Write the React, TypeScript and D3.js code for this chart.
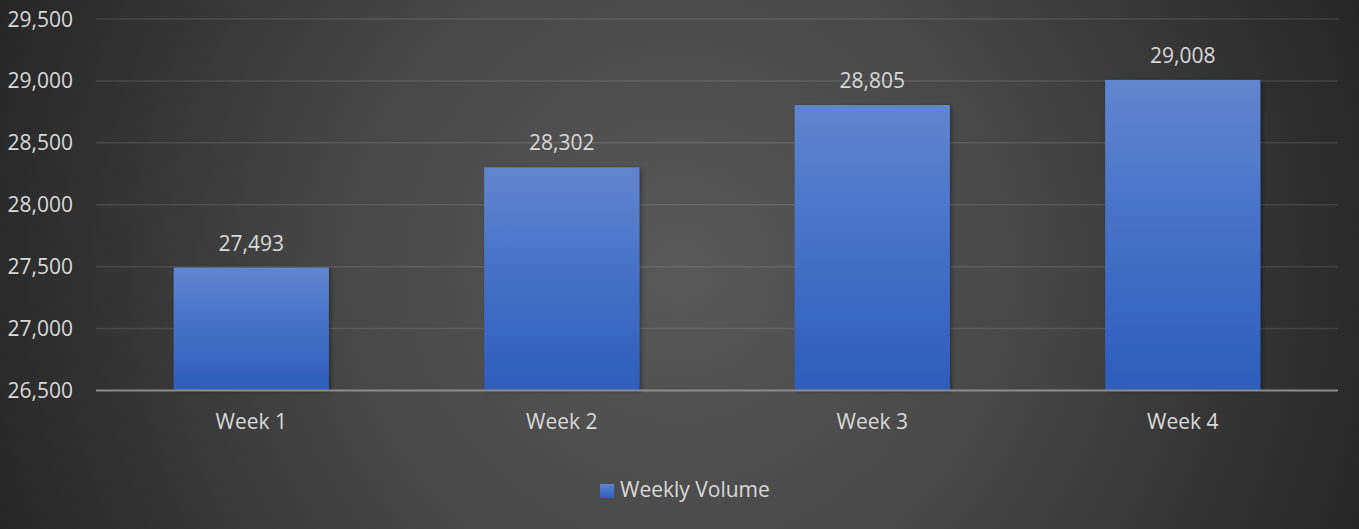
import React from "react";
import * as d3 from "d3";

const categories = ["Week 1", "Week 2", "Week 3", "Week 4"];
const values = [27493, 28302, 28805, 29008];
const yTicks = [26500, 27000, 27500, 28000, 28500, 29000, 29500];
const seriesName = "Weekly Volume";

const W = 1359;
const H = 529;
const FONT = "'Open Sans', sans-serif";
const TEXT = "#d9d9d9";

export default function App() {
  const x = d3.scaleBand<string>().domain(categories).range([96, 1338]).paddingInner(0.5).paddingOuter(0.25);
  const y = d3.scaleLinear().domain([26500, 29500]).range([390.5, 19]);
  const fmt = d3.format(",");

  return (
    <svg width={W} height={H} style={{ position: "absolute", left: 0, top: 0, display: "block" }}>
      <defs>
        <radialGradient id="bg" cx={680} cy={270} r={760} gradientUnits="userSpaceOnUse">
          <stop offset="0" stopColor="#585858" />
          <stop offset="0.45" stopColor="#474747" />
          <stop offset="1" stopColor="#232323" />
        </radialGradient>
        <linearGradient id="bar" x1="0" y1="0" x2="0" y2="1">
          <stop offset="0" stopColor="#6186cf" />
          <stop offset="0.5" stopColor="#4470c6" />
          <stop offset="1" stopColor="#2d5dbb" />
        </linearGradient>
        <filter id="shadow" x="-10%" y="-10%" width="130%" height="120%">
          <feDropShadow dx="2" dy="1" stdDeviation="2" floodColor="#000" floodOpacity="0.35" />
        </filter>
      </defs>
      <rect x={0} y={0} width={W} height={H} fill="url(#bg)" />
      {yTicks.map((t) => (
        <g key={t}>
          {t !== 26500 && (
            <line x1={96} x2={1338} y1={y(t)} y2={y(t)} stroke="rgba(255,255,255,0.11)" strokeWidth={1.5} />
          )}
          <text x={73} y={y(t) + 7.5} textAnchor="end" fontFamily={FONT} fontSize={21} fill={TEXT}>
            {fmt(t)}
          </text>
        </g>
      ))}
      {categories.map((c, i) => (
        <g key={c}>
          <rect
            x={x(c)!}
            y={y(values[i])}
            width={x.bandwidth()}
            height={y(26500) - y(values[i])}
            fill="url(#bar)"
            filter="url(#shadow)"
          />
          <text
            x={x(c)! + x.bandwidth() / 2}
            y={y(values[i]) - 17}
            textAnchor="middle"
            fontFamily={FONT}
            fontSize={21}
            fill={TEXT}
          >
            {fmt(values[i])}
          </text>
          <text
            x={x(c)! + x.bandwidth() / 2}
            y={429}
            textAnchor="middle"
            fontFamily={FONT}
            fontSize={21}
            fill={TEXT}
          >
            {c}
          </text>
        </g>
      ))}
      <line x1={96} x2={1338} y1={y(26500)} y2={y(26500)} stroke="#8c8c8c" strokeWidth={2} />
      <rect x={600} y={484} width={14} height={14} fill="url(#bar)" />
      <text x={620} y={497} fontFamily={FONT} fontSize={21} fill={TEXT}>
        {seriesName}
      </text>
    </svg>
  );
}
